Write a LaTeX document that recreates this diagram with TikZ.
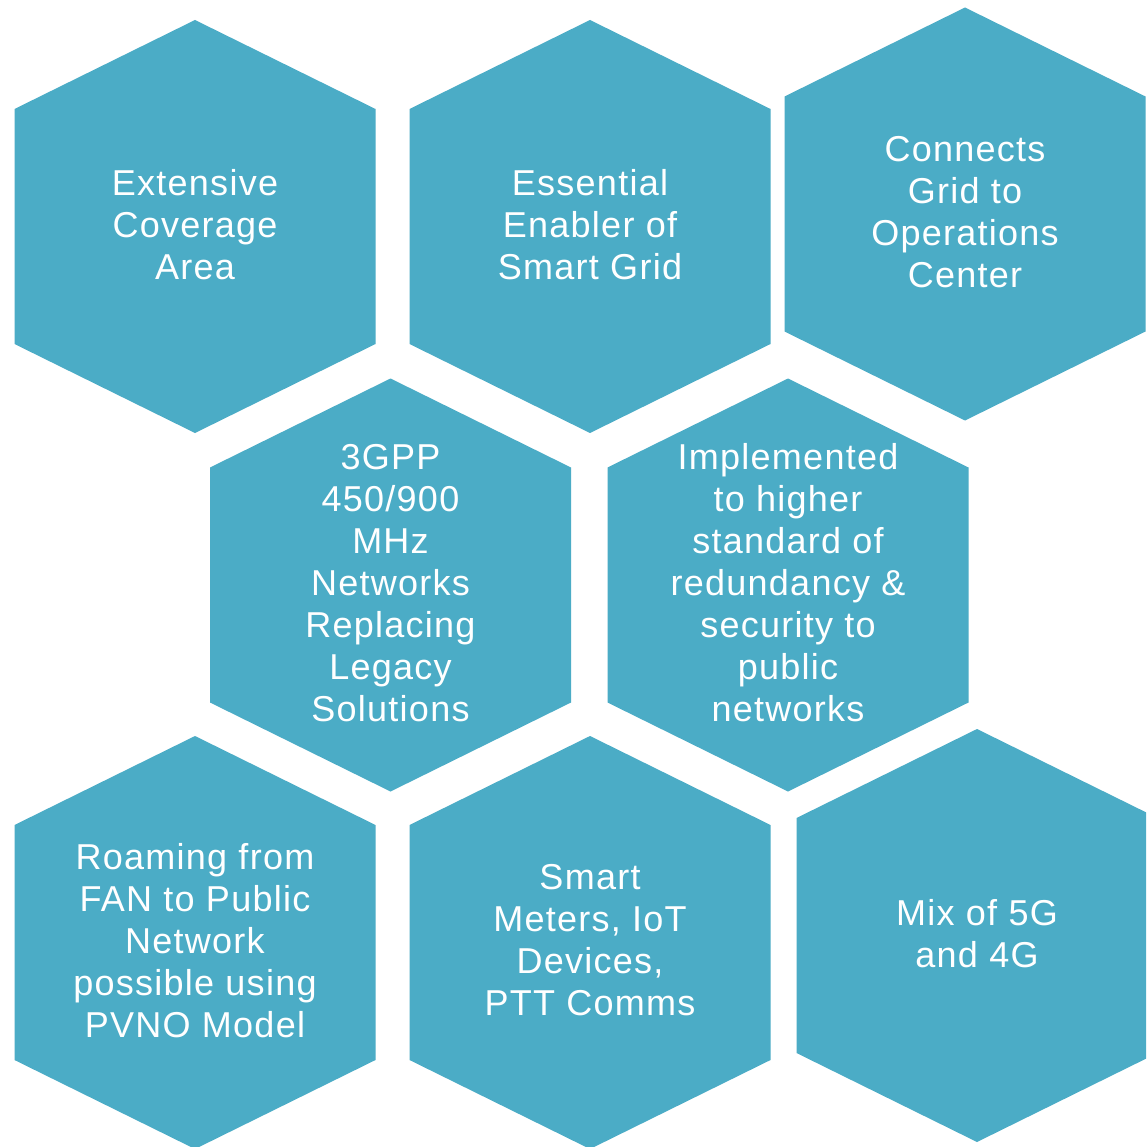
\documentclass[tikz,border=0pt]{standalone}
\usepackage{fontspec}
\setmainfont{Liberation Sans}[LetterSpace=3.5]
\definecolor{hexblue}{RGB}{75,172,198}
\begin{document}
\begin{tikzpicture}[x=1pt,y=-1pt,
  hexa/.pic={\fill[hexblue] (0,-206.5) -- (180.5,-117.5) -- (180.5,117.5) -- (0,206.5) -- (-180.5,117.5) -- (-180.5,-117.5) -- cycle;},
  lbl/.style={text=white,align=center,font=\fontsize{36}{42}\selectfont,inner sep=0pt,yshift=2pt}]
\useasboundingbox (0,0) rectangle (1146,1147);
\clip (0,0) rectangle (1146,1147);
\fill[white] (0,0) rectangle (1146,1147);
\pic at (195,226.5) {hexa};
\pic at (590,226.5) {hexa};
\pic at (965,214) {hexa};
\pic at (390.5,585) {hexa};
\pic at (788,585) {hexa};
\pic at (195,942.5) {hexa};
\pic at (590,942.5) {hexa};
\pic at (977,935.5) {hexa};
\node[lbl] (h1) at (195,226.5) {Extensive\\Coverage\\Area};
\node[lbl] (h2) at (590,226.5) {Essential\\Enabler of\\Smart Grid};
\node[lbl] (h3) at (965,214) {Connects\\Grid to\\Operations\\Center};
\node[lbl] (h4) at (390.5,585) {3GPP\\450/900\\MHz\\Networks\\Replacing\\Legacy\\Solutions};
\node[lbl] (h5) at (788,585) {Implemented\\to higher\\standard of\\redundancy \&\\security to\\public\\networks};
\node[lbl] (h6) at (195,942.5) {Roaming from\\FAN to Public\\Network\\possible using\\PVNO Model};
\node[lbl] (h7) at (590,942.5) {Smart\\Meters, IoT\\Devices,\\PTT Comms};
\node[lbl] (h8) at (977,935.5) {Mix of 5G\\and 4G};
\end{tikzpicture}
\end{document}
